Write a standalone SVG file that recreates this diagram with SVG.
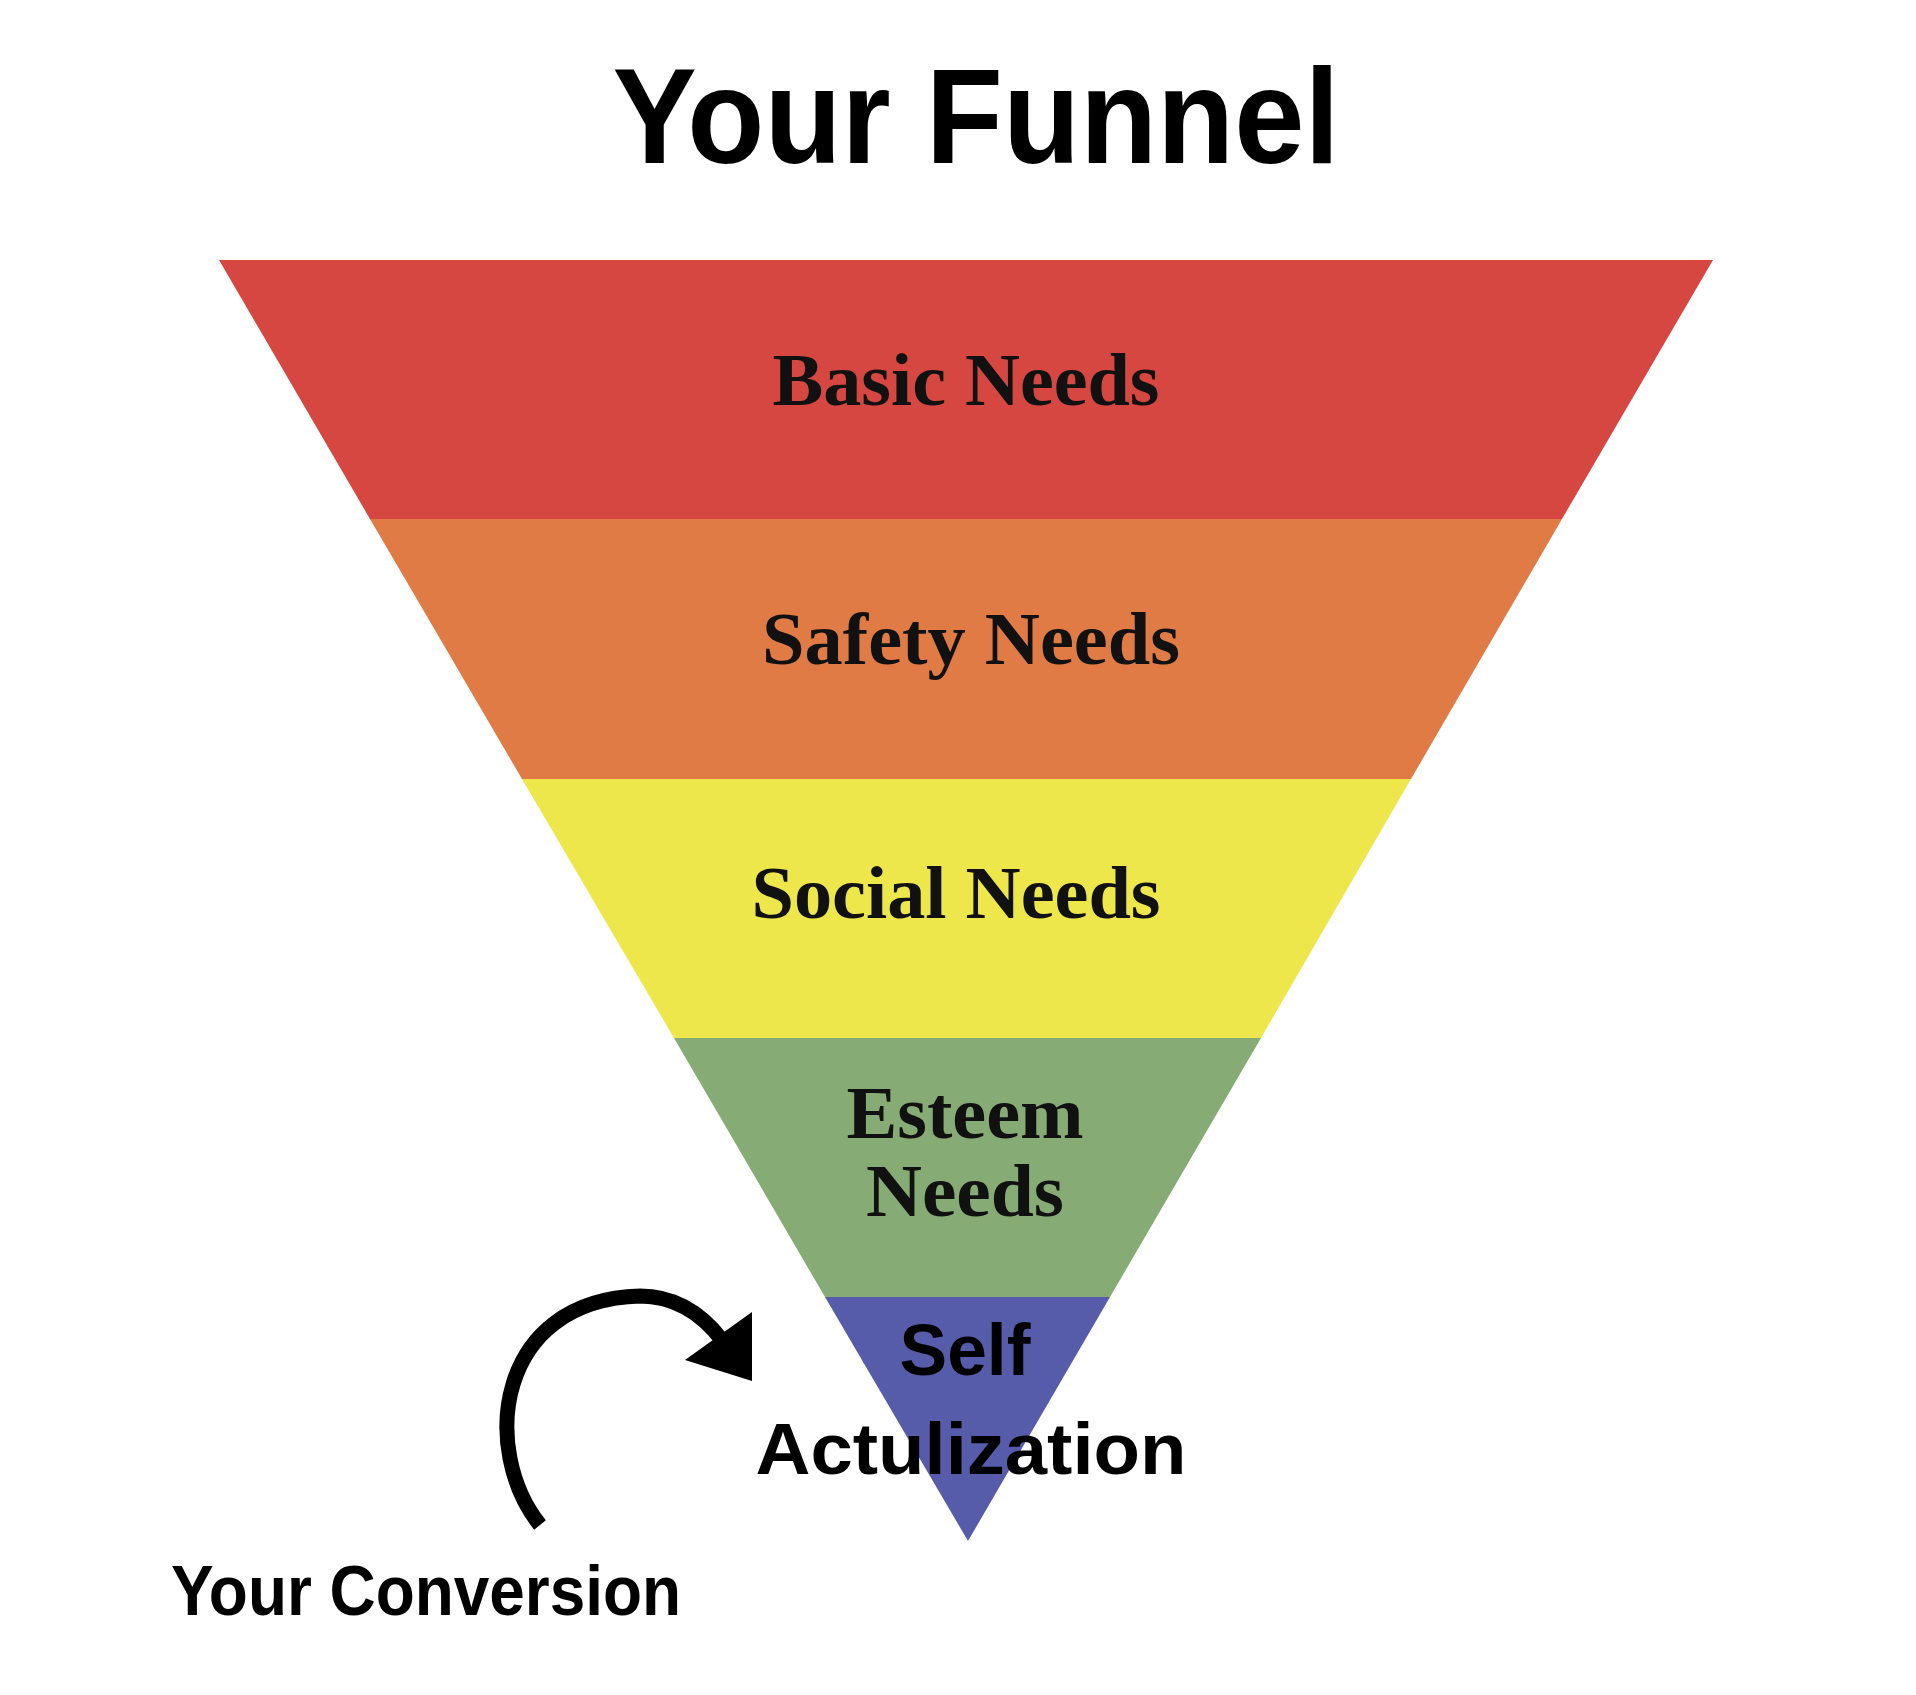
<svg xmlns="http://www.w3.org/2000/svg" width="1916" height="1695" viewBox="0 0 1916 1695">
<style>
.t{font-family:"Liberation Sans",Arial,sans-serif;font-weight:bold;fill:#000;text-anchor:middle}
.s{font-family:"Liberation Serif","Times New Roman",serif;font-weight:bold;fill:#111;text-anchor:middle;font-size:74px}
</style>
<rect width="1916" height="1695" fill="#fff"/>
<text class="t" x="976" y="163" font-size="135" textLength="727" lengthAdjust="spacingAndGlyphs">Your Funnel</text>
<g id="basic"><polygon points="219,260 1713,260 1562,519 370,519" fill="#d64742"/><text class="s" x="966" y="405" textLength="387" lengthAdjust="spacingAndGlyphs">Basic Needs</text></g>
<g id="safety"><polygon points="370,519 1562,519 1411,779 522,779" fill="#e07b46"/><text class="s" x="971" y="664" textLength="418" lengthAdjust="spacingAndGlyphs">Safety Needs</text></g>
<g id="social"><polygon points="522,779 1411,779 1261,1038 674,1038" fill="#ede74b"/><text class="s" x="956" y="918" textLength="409" lengthAdjust="spacingAndGlyphs">Social Needs</text></g>
<g id="esteem"><polygon points="674,1038 1261,1038 1110,1297 825,1297" fill="#86ab74"/><text class="s" x="965" y="1138" textLength="237" lengthAdjust="spacingAndGlyphs">Esteem</text><text class="s" x="965" y="1216" textLength="198" lengthAdjust="spacingAndGlyphs">Needs</text></g>
<g id="self"><polygon points="825,1297 1110,1297 968,1541" fill="#575caa"/><text class="t" x="965" y="1375" font-size="72" textLength="131" lengthAdjust="spacingAndGlyphs">Self</text><text class="t" x="971" y="1474" font-size="72" textLength="431" lengthAdjust="spacingAndGlyphs">Actulization</text></g>
<g id="connectors">
<path d="M540,1525 C480,1450 495,1300 640,1296 C680,1296 705,1318 722,1340" fill="none" stroke="#000" stroke-width="15"/>
<polygon points="752,1312 752,1381 685,1360" fill="#000"/>
</g>
<text class="t" x="426" y="1615" font-size="70" textLength="510" lengthAdjust="spacingAndGlyphs">Your Conversion</text>
</svg>
